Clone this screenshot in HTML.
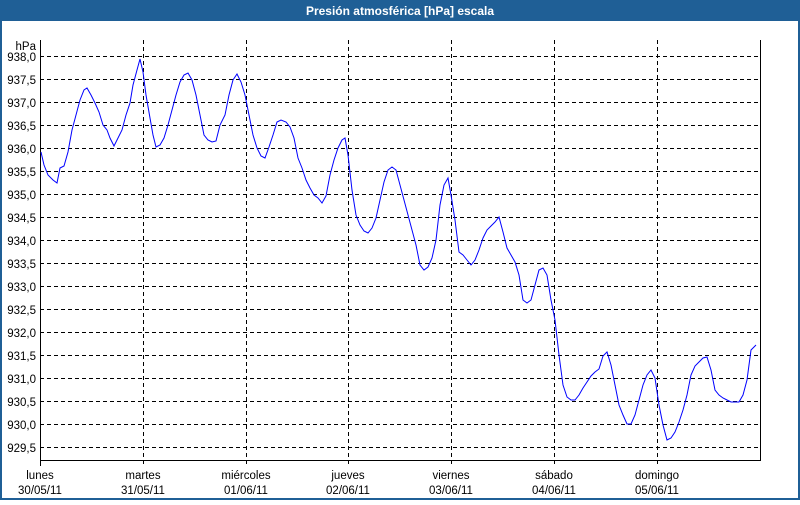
<!DOCTYPE html>
<html><head><meta charset="utf-8"><style>
body{margin:0;width:800px;height:500px;overflow:hidden;background:#fff;font-family:"Liberation Sans","DejaVu Sans",sans-serif}
</style></head><body>
<svg width="800" height="500" xmlns="http://www.w3.org/2000/svg" font-family="Liberation Sans, DejaVu Sans, sans-serif" font-size="11.5">
<rect x="0" y="0" width="800" height="500" fill="#fff"/>
<rect x="0" y="0" width="800" height="21" fill="#1f5f96"/>
<rect x="0" y="0" width="2" height="500" fill="#1f5f96"/>
<rect x="798" y="0" width="2" height="500" fill="#1f5f96"/>
<rect x="0" y="498" width="800" height="2" fill="#1f5f96"/>
<text x="400" y="15" fill="#fff" font-weight="bold" font-size="12" text-anchor="middle">Presión atmosférica [hPa] escala</text>
<g stroke="#000" stroke-width="1" stroke-dasharray="4,3">
<line x1="40" x2="760" y1="56.5" y2="56.5"/><line x1="40" x2="760" y1="79.5" y2="79.5"/><line x1="40" x2="760" y1="102.5" y2="102.5"/><line x1="40" x2="760" y1="125.5" y2="125.5"/><line x1="40" x2="760" y1="148.5" y2="148.5"/><line x1="40" x2="760" y1="171.5" y2="171.5"/><line x1="40" x2="760" y1="194.5" y2="194.5"/><line x1="40" x2="760" y1="217.5" y2="217.5"/><line x1="40" x2="760" y1="240.5" y2="240.5"/><line x1="40" x2="760" y1="263.5" y2="263.5"/><line x1="40" x2="760" y1="286.5" y2="286.5"/><line x1="40" x2="760" y1="309.5" y2="309.5"/><line x1="40" x2="760" y1="332.5" y2="332.5"/><line x1="40" x2="760" y1="355.5" y2="355.5"/><line x1="40" x2="760" y1="378.5" y2="378.5"/><line x1="40" x2="760" y1="401.5" y2="401.5"/><line x1="40" x2="760" y1="424.5" y2="424.5"/><line x1="40" x2="760" y1="447.5" y2="447.5"/>
<line x1="143.5" x2="143.5" y1="40" y2="466"/><line x1="246.5" x2="246.5" y1="40" y2="466"/><line x1="348.5" x2="348.5" y1="40" y2="466"/><line x1="451.5" x2="451.5" y1="40" y2="466"/><line x1="554.5" x2="554.5" y1="40" y2="466"/><line x1="657.5" x2="657.5" y1="40" y2="466"/>
</g>
<path d="M40.5 40 V460.5 H760.5 V40" fill="none" stroke="#000" stroke-width="1"/>
<line x1="40.5" y1="460" x2="40.5" y2="466" stroke="#000"/>
<g text-anchor="end" fill="#000">
<text x="36" y="50">hPa</text>
<text x="36" y="61">938,0</text><text x="36" y="84">937,5</text><text x="36" y="107">937,0</text><text x="36" y="130">936,5</text><text x="36" y="153">936,0</text><text x="36" y="176">935,5</text><text x="36" y="199">935,0</text><text x="36" y="222">934,5</text><text x="36" y="245">934,0</text><text x="36" y="268">933,5</text><text x="36" y="291">933,0</text><text x="36" y="314">932,5</text><text x="36" y="337">932,0</text><text x="36" y="360">931,5</text><text x="36" y="383">931,0</text><text x="36" y="406">930,5</text><text x="36" y="429">930,0</text><text x="36" y="452">929,5</text>
</g>
<g text-anchor="middle" fill="#000">
<text x="40" y="479">lunes</text><text x="40" y="494">30/05/11</text>
<text x="143" y="479">martes</text><text x="143" y="494">31/05/11</text>
<text x="246" y="479">miércoles</text><text x="246" y="494">01/06/11</text>
<text x="348" y="479">jueves</text><text x="348" y="494">02/06/11</text>
<text x="451" y="479">viernes</text><text x="451" y="494">03/06/11</text>
<text x="554" y="479">sábado</text><text x="554" y="494">04/06/11</text>
<text x="657" y="479">domingo</text><text x="657" y="494">05/06/11</text>
</g>
<polyline fill="none" stroke="#0000ff" stroke-width="1" points="41,152 44,165 48,175 53,180 57,183 60,168 64,166 68,152 72,130 76,115 80,100 84,90 87,88 91,95 95,103 99,112 103,125 107,130 110,138 114,146 118,138 122,130 126,115 130,103 133,85 137,70 140,59 143,72 146,95 150,118 153,135 156,147 160,145 164,138 168,125 172,110 176,95 180,82 184,75 188,73 192,80 196,95 200,115 204,135 208,140 212,142 216,141 220,125 225,115 229,95 233,80 237,74 241,82 245,95 249,115 253,135 257,148 261,156 265,158 269,147 273,135 277,122 281,120 286,122 290,127 294,138 298,158 302,168 306,180 310,188 314,195 318,198 322,203 326,196 330,175 334,160 338,148 342,140 345,138 348,155 352,190 356,215 360,225 364,231 368,233 372,228 376,218 380,200 384,182 388,170 392,167 396,170 400,185 404,200 408,215 412,230 416,245 420,265 424,270 428,267 432,258 436,240 440,205 444,185 448,178 451,195 455,220 459,252 463,255 467,260 471,265 475,260 479,250 483,238 487,230 491,226 495,222 499,217 503,232 507,248 511,255 515,262 519,275 523,300 527,303 531,300 535,285 539,270 543,268 547,275 551,300 555,320 559,355 563,385 567,397 571,400 575,400 579,395 583,388 587,382 591,376 595,372 599,369 603,356 607,352 611,365 615,385 619,405 623,415 627,424 631,424 635,415 639,400 643,385 647,375 651,370 655,378 659,405 663,425 667,440 671,438 675,432 679,422 683,410 687,395 691,375 695,366 699,362 703,358 707,357 711,370 715,390 719,395 723,398 727,400 731,402 735,402 739,402 743,395 747,380 751,350 756,345"/>
</svg>
</body></html>
